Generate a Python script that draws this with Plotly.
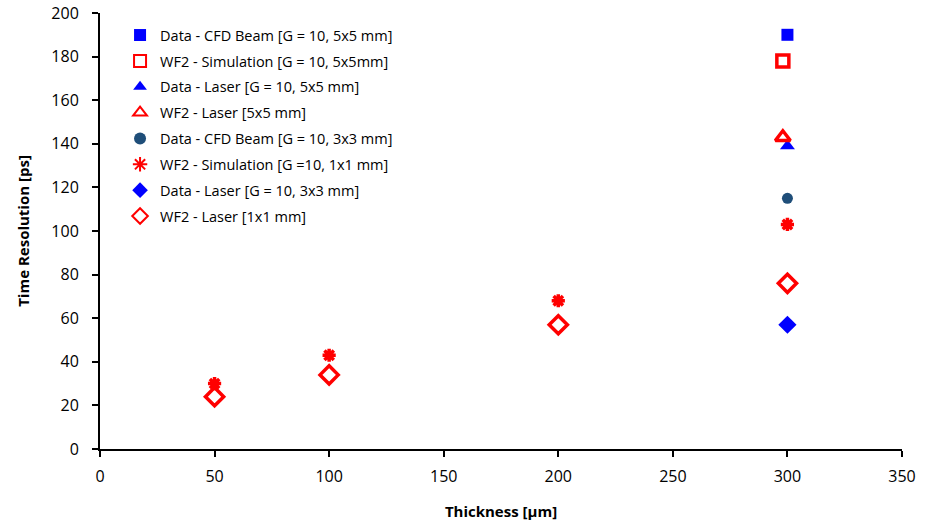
import plotly.graph_objects as go

# Data
names = [
    "Data - CFD Beam [G = 10, 5x5 mm]",
    "WF2 - Simulation [G = 10, 5x5mm]",
    "Data - Laser [G = 10, 5x5 mm]",
    "WF2 - Laser [5x5 mm]",
    "Data - CFD Beam [G = 10, 3x3 mm]",
    "WF2 - Simulation [G =10, 1x1 mm]",
    "Data - Laser [G = 10, 3x3 mm]",
    "WF2 - Laser [1x1 mm]",
]
cfd55_x = [300]; cfd55_y = [190]
sim55_x = [298]; sim55_y = [178]
las55_x = [300]; las55_y = [139]
wflas55_x = [298]; wflas55_y = [143]
cfd33_x = [300]; cfd33_y = [115]
sim11_x = [50, 100, 200, 300]; sim11_y = [30, 43, 68, 103]
las33_x = [300]; las33_y = [57]
wflas11_x = [50, 100, 200, 300]; wflas11_y = [24, 34, 57, 76]

xs = [cfd55_x, sim55_x, las55_x, wflas55_x, cfd33_x, sim11_x, las33_x, wflas11_x]
ys = [cfd55_y, sim55_y, las55_y, wflas55_y, cfd33_y, sim11_y, las33_y, wflas11_y]

styles = [
    dict(symbol="square", color="#0000FF", size=12, line=dict(width=0)),
    dict(symbol="square-open", color="#FF0000", size=12, line=dict(width=3.5, color="#FF0000")),
    dict(symbol="triangle-up", color="#0000FF", size=13, line=dict(width=0)),
    dict(symbol="triangle-up-open", color="#FF0000", size=13, line=dict(width=3.5, color="#FF0000")),
    dict(symbol="circle", color="#1F4E79", size=11, line=dict(width=0)),
    dict(symbol="asterisk-open", color="#FF0000", size=11, line=dict(width=3.5, color="#FF0000")),
    dict(symbol="diamond", color="#0000FF", size=14, line=dict(width=0)),
    dict(symbol="diamond-open", color="#FF0000", size=14, line=dict(width=3.5, color="#FF0000")),
]

fig = go.Figure()
for i, (n, x, y, s) in enumerate(zip(names, xs, ys, styles)):
    fig.add_trace(go.Scatter(x=x, y=y, mode="markers", name=n, marker=s,
                             legendgroup=f"g{i}"))

font_fam = "'Open Sans', sans-serif"
fig.update_layout(
    width=930, height=524,
    margin=dict(l=100, r=28, t=13, b=75, autoexpand=False),
    paper_bgcolor="white", plot_bgcolor="white",
    font=dict(family=font_fam, size=16, color="black"),
    showlegend=True,
    legend=dict(x=0.025, y=0.986, xanchor="left", yanchor="top",
                font=dict(size=14.5), bgcolor="rgba(0,0,0,0)",
                tracegroupgap=4, itemsizing="constant"),
    xaxis=dict(range=[0, 350], dtick=50, showline=True, linecolor="black", linewidth=2,
               ticks="outside", ticklen=6, tickwidth=2, tickcolor="black", showgrid=False,
               zeroline=False, automargin=False, ticklabelstandoff=6,
               title=dict(text="<b>Thickness [μm]</b>", font=dict(size=15), standoff=20)),
    yaxis=dict(range=[0, 200], dtick=20, showline=True, linecolor="black", linewidth=2,
               ticks="outside", ticklen=6, tickwidth=2, tickcolor="black", showgrid=False,
               zeroline=False, automargin=False, ticklabelstandoff=10,
               title=dict(text="<b>Time Resolution [ps]</b>", font=dict(size=15), standoff=18)),
)

fig.write_html("out.html")
